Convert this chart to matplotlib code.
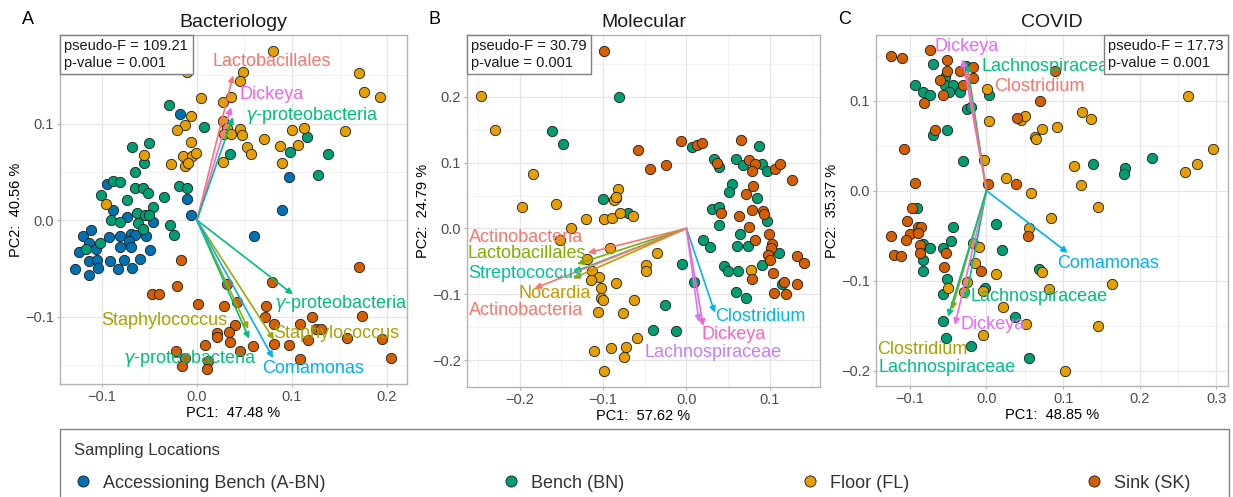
import matplotlib
matplotlib.use("Agg")
import matplotlib.pyplot as plt
from matplotlib.lines import Line2D
from matplotlib.patches import Rectangle
from matplotlib.offsetbox import AnchoredText
from matplotlib.ticker import FixedLocator, AutoMinorLocator, FuncFormatter

plt.rcParams["font.family"] = ["Liberation Sans", "DejaVu Sans"]

GROUPS = ["Accessioning Bench (A-BN)", "Bench (BN)", "Floor (FL)", "Sink (SK)"]
GROUP_COLORS = ["#0072B2", "#009E73", "#E69F00", "#D55E00"]

# ---- A: Bacteriology ----
bact_abn = [(-0.018, 0.110), (-0.010, 0.022), (-0.095, 0.037), (-0.088, 0.010), (-0.074, 0.003),
            (-0.046, -0.002), (-0.006, 0.005), (-0.120, -0.016), (-0.111, -0.010), (-0.092, -0.018),
            (-0.081, -0.017), (-0.069, -0.014), (-0.065, -0.015), (-0.054, -0.017), (-0.071, -0.022),
            (-0.069, -0.028), (-0.081, -0.028), (-0.113, -0.024), (-0.106, -0.030), (-0.124, -0.033),
            (-0.049, -0.031), (-0.113, -0.042), (-0.105, -0.041), (-0.091, -0.042), (-0.077, -0.041),
            (-0.060, -0.040), (-0.128, -0.051), (-0.114, -0.057), (-0.104, -0.050), (-0.083, -0.051),
            (-0.068, -0.050), (0.089, 0.010), (0.060, -0.016), (0.097, 0.045)]
bact_bn = [(-0.029, 0.119), (0.007, 0.097), (-0.050, 0.080), (-0.068, 0.076), (0.035, 0.069),
           (0.116, 0.086), (0.098, 0.071), (0.138, 0.069), (0.127, 0.047), (-0.056, 0.059),
           (-0.065, 0.050), (-0.088, 0.041), (-0.081, 0.040), (-0.065, 0.033), (-0.057, 0.033),
           (-0.051, 0.028), (-0.101, 0.026), (-0.074, 0.021), (-0.019, 0.035), (-0.010, 0.033),
           (-0.035, 0.024), (-0.063, 0.007), (-0.055, 0.005), (-0.046, 0.014), (-0.090, 0.000),
           (-0.081, -0.002), (-0.062, -0.003), (-0.028, -0.005), (-0.024, -0.015), (-0.057, -0.009),
           (-0.102, -0.024), (-0.117, -0.030), (-0.050, 0.005)]
bact_fl = [(0.080, 0.175), (-0.010, 0.154), (0.049, 0.154), (0.045, 0.144), (0.171, 0.153),
           (0.176, 0.133), (0.193, 0.128), (0.004, 0.127), (0.027, 0.123), (0.036, 0.128),
           (-0.006, 0.108), (-0.012, 0.099), (-0.021, 0.093), (0.027, 0.103), (0.032, 0.096),
           (0.029, 0.089), (0.036, 0.089), (0.045, 0.095), (0.047, 0.088), (-0.006, 0.081),
           (-0.056, 0.068), (-0.015, 0.066), (-0.005, 0.067), (-0.001, 0.070), (0.027, 0.060),
           (0.053, 0.076), (0.057, 0.069), (0.071, 0.084), (0.087, 0.077), (0.100, 0.093),
           (0.113, 0.096), (0.106, 0.078), (0.090, 0.059), (0.156, 0.092), (-0.027, 0.058),
           (-0.013, 0.056), (-0.009, 0.059), (-0.096, 0.017)]
bact_sk = [(-0.017, -0.041), (0.170, -0.049), (-0.021, -0.068), (-0.047, -0.077), (-0.040, -0.077),
           (0.032, -0.066), (0.079, -0.064), (0.001, -0.087), (0.028, -0.089), (0.042, -0.085),
           (0.073, -0.089), (0.072, -0.101), (0.081, -0.108), (0.174, -0.099), (0.121, -0.101),
           (0.108, -0.108), (0.040, -0.109), (0.034, -0.116), (0.021, -0.117), (0.021, -0.121),
           (0.125, -0.113), (0.131, -0.113), (0.117, -0.124), (0.158, -0.122), (0.195, -0.123),
           (0.081, -0.128), (0.097, -0.130), (0.059, -0.131), (0.035, -0.126), (0.008, -0.130),
           (0.045, -0.136), (-0.022, -0.136), (-0.013, -0.143), (0.012, -0.146), (-0.016, -0.151),
           (0.011, -0.154), (0.108, -0.144), (0.204, -0.143)]
bact_arrows = [  # name, colour, tip, label position
    ("Lactobacillales", "#F8766D", (0.038, 0.150), (0.079, 0.165)),
    ("Dickeya", "#F564E3", (0.036, 0.117), (0.079, 0.130)),
    (r"$\gamma$-proteobacteria", "#00BF7D", (0.038, 0.107), (0.121, 0.109)),
    (r"$\gamma$-proteobacteria", "#00BF7D", (0.101, -0.077), (0.151, -0.087)),
    ("Staphylococcus", "#A3A500", (0.054, -0.113), (-0.034, -0.104)),
    (r"$\gamma$-proteobacteria", "#00BF7D", (0.055, -0.123), (-0.007, -0.144)),
    ("Staphylococcus", "#A3A500", (0.081, -0.124), (0.147, -0.118)),
    ("Comamonas", "#00B0F6", (0.080, -0.143), (0.122, -0.154)),
]

# ---- B: Molecular ----
mol_bn = [(-0.081, 0.200), (-0.161, 0.148), (-0.148, 0.128), (0.007, 0.124), (0.033, 0.105),
          (0.039, 0.094), (0.087, 0.126), (0.059, 0.105), (0.068, 0.097), (0.091, 0.098),
          (0.097, 0.088), (0.055, 0.067), (0.051, 0.055), (0.084, 0.047), (-0.100, 0.045),
          (-0.070, 0.023), (-0.005, -0.054), (0.009, -0.081), (-0.026, -0.117), (-0.040, -0.154),
          (-0.013, -0.156), (0.020, -0.018), (0.028, -0.028), (0.031, 0.029), (0.039, 0.032),
          (0.039, 0.005), (0.064, -0.009), (0.060, -0.026), (0.074, -0.026), (0.097, 0.011),
          (0.111, -0.037), (0.090, -0.056), (0.045, -0.057), (0.050, -0.065), (0.062, -0.065),
          (0.114, -0.085), (0.059, -0.096), (0.071, -0.105)]
mol_fl = [(-0.246, 0.201), (-0.230, 0.150), (-0.184, 0.083), (-0.082, 0.060), (-0.085, 0.046),
          (-0.197, 0.032), (-0.156, 0.037), (-0.087, 0.043), (-0.084, 0.048), (-0.121, 0.014),
          (-0.099, 0.014), (-0.089, 0.016), (-0.080, 0.024), (-0.064, 0.019), (-0.138, 0.000),
          (-0.152, -0.018), (-0.092, -0.030), (-0.119, -0.047), (-0.113, -0.065), (-0.105, -0.074),
          (-0.115, -0.079), (-0.102, -0.090), (-0.084, -0.083), (-0.102, -0.105), (-0.100, -0.109),
          (-0.106, -0.127), (-0.076, -0.129), (-0.063, -0.109), (-0.048, -0.056), (-0.048, -0.065),
          (-0.035, -0.038), (-0.059, -0.166), (-0.072, -0.180), (-0.091, -0.182), (-0.075, -0.196),
          (-0.111, -0.186), (-0.099, -0.216), (0.077, -0.063)]
mol_sk = [(-0.099, 0.270), (-0.058, 0.119), (-0.044, 0.090), (-0.025, 0.097), (-0.007, 0.133),
          (0.013, 0.127), (0.019, 0.130), (0.037, 0.099), (0.065, 0.134), (0.075, 0.104),
          (0.082, 0.098), (0.079, 0.087), (0.106, 0.091), (0.112, 0.098), (0.127, 0.073),
          (0.071, 0.053), (0.080, 0.064), (0.041, 0.024), (0.063, 0.019), (0.082, -0.018),
          (0.075, 0.002), (0.078, 0.028), (0.092, 0.027), (0.093, 0.022), (0.099, -0.008),
          (0.103, -0.023), (0.101, -0.030), (0.098, -0.040), (0.100, -0.048), (0.079, -0.077),
          (0.104, -0.068), (0.117, -0.081), (0.105, -0.098), (0.119, -0.100), (0.133, -0.042),
          (0.141, -0.052), (0.133, -0.085)]
mol_arrows = [
    ("Actinobacteria", "#F8766D", (-0.118, -0.037), (-0.192, -0.014)),
    ("Lactobacillales", "#7CAE00", (-0.131, -0.054), (-0.192, -0.038)),
    ("Streptococcus", "#00C19A", (-0.135, -0.066), (-0.193, -0.068)),
    ("Nocardia", "#C49A00", (-0.136, -0.076), (-0.158, -0.099)),
    ("Actinobacteria", "#F8766D", (-0.182, -0.091), (-0.192, -0.125)),
    ("Clostridium", "#00B8E7", (0.034, -0.128), (0.089, -0.134)),
    ("Lachnospiraceae", "#C77CFF", (0.015, -0.142), (0.032, -0.188)),
    ("Dickeya", "#FF61C3", (0.020, -0.148), (0.057, -0.161)),
]

# ---- C: COVID ----
cov_bn = [(-0.070, 0.141), (-0.026, 0.139), (-0.054, 0.126), (-0.054, 0.117), (-0.043, 0.117),
          (-0.093, 0.117), (-0.083, 0.110), (-0.074, 0.106), (-0.049, 0.110), (-0.034, 0.110),
          (-0.025, 0.091), (-0.020, 0.093), (0.003, 0.106), (-0.070, 0.062), (-0.051, 0.068),
          (-0.030, 0.033), (0.139, 0.030), (0.181, 0.025), (0.179, 0.019), (0.216, 0.036),
          (0.013, -0.037), (-0.090, -0.019), (-0.083, -0.059), (-0.074, -0.064), (-0.083, -0.077),
          (-0.083, -0.089), (-0.057, -0.064), (-0.044, -0.040), (-0.046, -0.056), (-0.052, -0.098),
          (-0.056, -0.115), (-0.056, -0.145), (-0.053, -0.164), (-0.020, -0.172), (-0.002, -0.108),
          (0.020, -0.066), (0.037, -0.140), (0.055, -0.186), (0.069, -0.087)]
cov_fl = [(0.001, 0.113), (0.003, 0.078), (0.045, 0.079), (0.050, 0.083), (0.072, 0.069),
          (0.063, 0.060), (0.064, 0.057), (0.092, 0.071), (0.124, 0.087), (0.137, 0.080),
          (0.263, 0.105), (-0.003, 0.034), (0.114, 0.028), (0.259, 0.021), (0.275, 0.030),
          (0.295, 0.046), (0.025, 0.014), (0.058, -0.002), (0.123, 0.006), (0.146, -0.018),
          (0.084, -0.030), (0.056, -0.041), (-0.017, -0.058), (-0.010, -0.062), (-0.015, -0.080),
          (-0.050, -0.108), (-0.025, -0.101), (-0.029, -0.113), (-0.004, -0.111), (0.013, -0.093),
          (0.022, -0.129), (-0.004, -0.160), (0.051, -0.148), (0.073, -0.090), (0.082, -0.109),
          (0.164, -0.104), (0.146, -0.150), (0.103, -0.200)]
cov_sk = [(-0.124, 0.150), (-0.110, 0.147), (-0.073, 0.156), (-0.052, 0.145), (-0.051, 0.133),
          (-0.035, 0.133), (-0.018, 0.137), (-0.017, 0.125), (-0.060, 0.123), (-0.031, 0.118),
          (-0.081, 0.097), (-0.056, 0.106), (0.090, 0.133), (0.070, 0.100), (0.040, 0.081),
          (-0.067, 0.068), (-0.107, 0.046), (-0.093, 0.009), (0.002, 0.007), (0.039, 0.007),
          (-0.097, -0.019), (-0.103, -0.034), (-0.089, -0.040), (-0.085, -0.040), (-0.100, -0.048),
          (-0.089, -0.047), (-0.125, -0.050), (-0.105, -0.055), (-0.120, -0.071), (-0.112, -0.073),
          (-0.087, -0.060), (-0.087, -0.069), (-0.053, -0.069), (-0.055, -0.085), (-0.007, -0.089),
          (0.054, -0.050)]
cov_arrows = [
    ("Dickeya", "#E76BF3", (-0.031, 0.146), (-0.026, 0.160)),
    ("Lachnospiraceae", "#00BF7D", (-0.025, 0.140), (0.083, 0.138)),
    ("Clostridium", "#F8766D", (-0.026, 0.134), (0.069, 0.116)),
    ("Comamonas", "#00B0F6", (0.106, -0.069), (0.159, -0.081)),
    ("Lachnospiraceae", "#00BF7D", (-0.027, -0.121), (0.069, -0.118)),
    ("Dickeya", "#E76BF3", (-0.041, -0.149), (0.008, -0.149)),
    ("Clostridium", "#A3A500", (-0.045, -0.132), (-0.083, -0.176)),
    ("Lachnospiraceae", "#00C08B", (-0.050, -0.140), (-0.051, -0.196)),
]

panels = [
    dict(letter="A", title="Bacteriology", groups=[bact_abn, bact_bn, bact_fl, bact_sk],
         arrows=bact_arrows, stat="pseudo-F = 109.21\np-value = 0.001", stat_loc="upper left",
         xlabel="PC1:  47.48 %", ylabel="PC2:  40.56 %",
         xlim=(-0.144, 0.221), ylim=(-0.170, 0.192),
         xticks=[-0.1, 0.0, 0.1, 0.2], yticks=[-0.1, 0.0, 0.1],
         pos=[60, 35, 407, 384]),
    dict(letter="B", title="Molecular", groups=[[], mol_bn, mol_fl, mol_sk],
         arrows=mol_arrows, stat="pseudo-F = 30.79\np-value = 0.001", stat_loc="upper left",
         xlabel="PC1:  57.62 %", ylabel="PC2:  24.79 %",
         xlim=(-0.263, 0.160), ylim=(-0.241, 0.294),
         xticks=[-0.2, -0.1, 0.0, 0.1], yticks=[-0.2, -0.1, 0.0, 0.1, 0.2],
         pos=[467, 35, 820, 387]),
    dict(letter="C", title="COVID", groups=[[], cov_bn, cov_fl, cov_sk],
         arrows=cov_arrows, stat="pseudo-F = 17.73\np-value = 0.001", stat_loc="upper right",
         xlabel="PC1:  48.85 %", ylabel="PC2:  35.37 %",
         xlim=(-0.144, 0.315), ylim=(-0.217, 0.173),
         xticks=[-0.1, 0.0, 0.1, 0.2, 0.3], yticks=[-0.2, -0.1, 0.0, 0.1],
         pos=[876, 35, 1228, 386]),
]

W, H = 1233, 497
fig = plt.figure(figsize=(W / 100, H / 100), dpi=100)
fmt = FuncFormatter(lambda v, _: f"{v:.1f}".replace("-", "\u2212"))

for p in panels:
    x0, y0, x1, y1 = p["pos"]
    ax = fig.add_axes([x0 / W, 1 - y1 / H, (x1 - x0) / W, (y1 - y0) / H])
    ax.set_xlim(*p["xlim"])
    ax.set_ylim(*p["ylim"])
    ax.xaxis.set_major_locator(FixedLocator(p["xticks"]))
    ax.yaxis.set_major_locator(FixedLocator(p["yticks"]))
    ax.xaxis.set_minor_locator(AutoMinorLocator(2))
    ax.yaxis.set_minor_locator(AutoMinorLocator(2))
    ax.xaxis.set_major_formatter(fmt)
    ax.yaxis.set_major_formatter(fmt)
    ax.grid(True, which="major", color="#E6E6E6", lw=0.9)
    ax.grid(True, which="minor", color="#F0F0F0", lw=0.6)
    ax.set_axisbelow(True)
    for s in ax.spines.values():
        s.set_color("#B3B3B3")
        s.set_linewidth(1.0)
    ax.tick_params(which="major", length=2.5, width=0.8, color="#B3B3B3",
                   labelsize=10.5, labelcolor="#4D4D4D", pad=2)
    ax.tick_params(which="minor", length=0)

    for pts, col in zip(p["groups"], GROUP_COLORS):
        if not pts:
            continue
        xs, ys = zip(*pts)
        ax.scatter(xs, ys, s=55, color=col, edgecolor="#1A1A1A", linewidth=0.6, zorder=3)

    for name, col, tip, lab in p["arrows"]:
        ax.annotate("", xy=tip, xytext=(0, 0),
                    arrowprops=dict(arrowstyle="-|>", color=col, lw=1.2, mutation_scale=9,
                                    shrinkA=0, shrinkB=0), zorder=4)
    for name, col, tip, lab in p["arrows"]:
        ax.text(lab[0], lab[1], name, color=col, fontsize=13, ha="center", va="center", zorder=5)

    at = AnchoredText(p["stat"], loc=p["stat_loc"], frameon=True, borderpad=0, pad=0.3,
                      prop=dict(size=10.5, color="#1A1A1A", linespacing=1.2))
    at.patch.set_edgecolor("#808080")
    at.patch.set_linewidth(1.0)
    at.patch.set_boxstyle("square,pad=0")
    at.zorder = 6
    ax.add_artist(at)

    ax.set_title(p["title"], fontsize=14, color="#1A1A1A", pad=6)
    ax.set_xlabel(p["xlabel"], fontsize=10.5, color="black", labelpad=1)
    ax.set_ylabel(p["ylabel"], fontsize=10.5, color="black", labelpad=1)
    fig.text((x0 - 38) / W, 1 - 20 / H, p["letter"], fontsize=13, ha="left", va="center")

# legend frame runs past the bottom edge of the figure, as in the original
fig.patches.append(Rectangle((60 / W, -0.2), 1169 / W, 0.2 + 1 - 429 / H,
                             transform=fig.transFigure, fill=False,
                             edgecolor="#808080", linewidth=1.0))
handles = [Line2D([], [], marker="o", linestyle="", markersize=8, markerfacecolor=c,
                  markeredgecolor="#1A1A1A", markeredgewidth=0.6) for c in GROUP_COLORS]
leg = fig.legend(handles, GROUPS, title="Sampling Locations", loc="upper left", ncol=4,
                 mode="expand", bbox_to_anchor=(60 / W, -0.5, 1145 / W, 0.5 + 1 - 429 / H),
                 fontsize=13, title_fontsize=12, alignment="left", frameon=False,
                 borderpad=0.8, labelspacing=0.9,
                 handletextpad=0.6, handlelength=1.0, borderaxespad=0)
leg.get_title().set_color("#333333")
for t in leg.get_texts():
    t.set_color("#333333")

fig.savefig("out.png", dpi=100)
